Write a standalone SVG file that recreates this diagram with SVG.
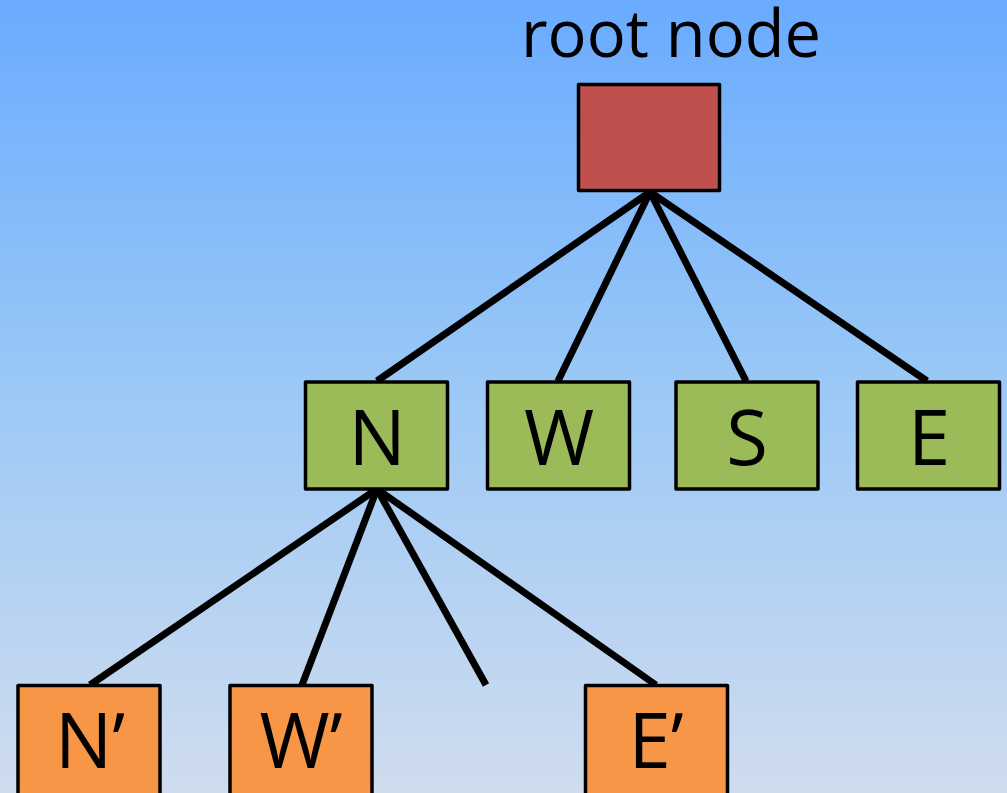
<svg xmlns="http://www.w3.org/2000/svg" width="1007" height="793" viewBox="0 0 1007 793">
<defs>
<linearGradient id="bg" x1="0" y1="0" x2="0" y2="1">
<stop offset="0" stop-color="#6aabff"/>
<stop offset="0.5" stop-color="#9cc9f6"/>
<stop offset="1" stop-color="#d0dcee"/>
</linearGradient>
<style>
.box{stroke:#000;stroke-width:3.5;stroke-linejoin:round}
.root{fill:#c0504d}
.g{fill:#9bbb59}
.o{fill:#f79646}
.lbl{font-family:"Open Sans","Noto Sans","Liberation Sans",sans-serif;font-size:76px;fill:#000;text-anchor:middle}
.title{font-family:"Open Sans","Noto Sans","Liberation Sans",sans-serif;font-size:65px;fill:#000;text-anchor:middle}
.edge{stroke:#000;stroke-width:7;fill:none}
</style>
</defs>
<rect width="1007" height="793" fill="url(#bg)"/>
<g id="connectors">
<line class="edge" x1="650" y1="192" x2="377" y2="381"/>
<line class="edge" x1="650" y1="192" x2="558" y2="381"/>
<line class="edge" x1="650" y1="192" x2="746" y2="381"/>
<line class="edge" x1="650" y1="192" x2="927" y2="381"/>
<line class="edge" x1="377" y1="489" x2="90" y2="685"/>
<line class="edge" x1="377" y1="489" x2="302" y2="685"/>
<line class="edge" x1="377" y1="489" x2="486" y2="685"/>
<line class="edge" x1="377" y1="489" x2="656" y2="685"/>
</g>
<g id="root-label"><text class="title" x="671" y="57">root node</text></g>
<g id="root"><rect class="box root" x="578.5" y="84.5" width="141" height="106"/></g>
<g id="N"><rect class="box g" x="305.5" y="382" width="142" height="107"/><text class="lbl" x="377" y="465">N</text></g>
<g id="W"><rect class="box g" x="487.5" y="382" width="142" height="107"/><text class="lbl" x="559" y="465">W</text></g>
<g id="S"><rect class="box g" x="676" y="382" width="142" height="107"/><text class="lbl" x="747" y="465">S</text></g>
<g id="E"><rect class="box g" x="857.5" y="382" width="142" height="107"/><text class="lbl" x="929" y="465">E</text></g>
<g id="N2"><rect class="box o" x="18" y="685.5" width="142" height="120"/><text class="lbl" x="90" y="768">N’</text></g>
<g id="W2"><rect class="box o" x="230" y="685.5" width="142" height="120"/><text class="lbl" x="301" y="768">W’</text></g>
<g id="E2"><rect class="box o" x="585.5" y="685.5" width="142" height="120"/><text class="lbl" x="656" y="768">E’</text></g>
</svg>
